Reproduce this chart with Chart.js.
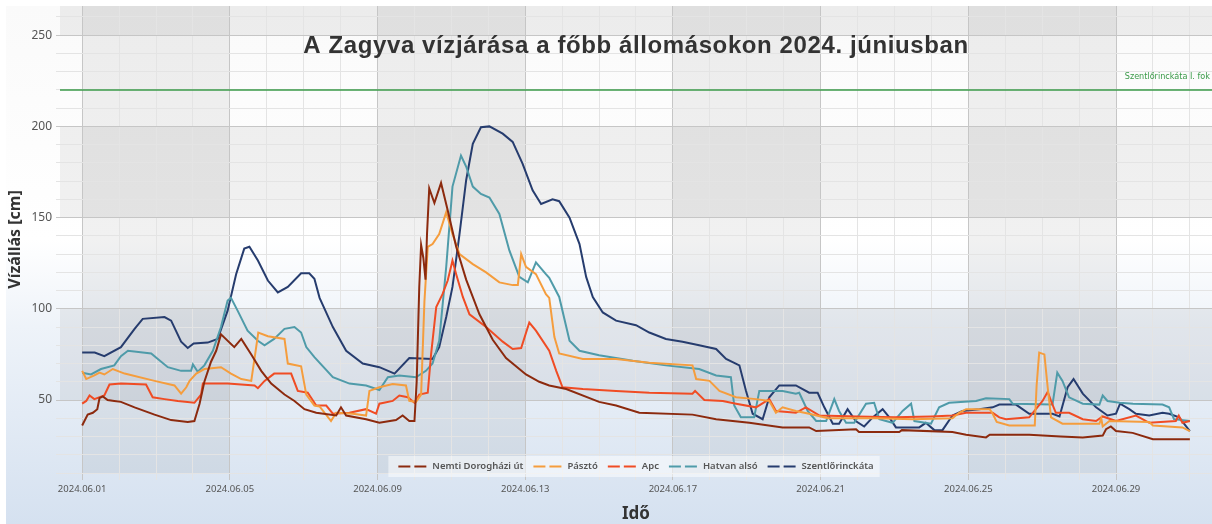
<!DOCTYPE html>
<html>
<head>
<meta charset="utf-8">
<title>Zagyva 2024 június</title>
<script src="https://cdn.jsdelivr.net/npm/chart.js@4.4.1/dist/chart.umd.min.js"></script>
<style>
  html, body { margin: 0; padding: 0; background: #fff; }
  canvas { display: block; }
</style>
</head>
<body>
<canvas id="chart" width="1212" height="524"></canvas>
<script>
// napok 2024.06.01 00:00-tól, vízállás cm-ben
const nemti = [[0,36],[0.15,42],[0.29,43],[0.41,45],[0.47,51],[0.56,52],[0.69,50],[0.87,49.5],[1.05,49],[1.42,46],[1.96,42],[2.41,39],[2.86,38],[3.04,38.5],[3.18,48],[3.31,60],[3.49,71],[3.63,77],[3.76,86],[4.12,79],[4.31,83.5],[4.58,75],[4.85,66],[5.12,59],[5.48,53],[5.75,49.5],[6.02,45],[6.34,43],[6.88,41.5],[7.01,46],[7.15,41.5],[7.69,39.5],[8.05,37.5],[8.5,39],[8.68,41.5],[8.86,38.5],[9.0,38.5],[9.06,60],[9.13,112],[9.18,135],[9.24,128],[9.3,116],[9.34,141],[9.4,166],[9.54,158],[9.72,169],[9.9,154],[10.13,134],[10.4,116],[10.76,97],[11.12,83],[11.48,73],[12.02,64],[12.38,60],[12.65,58],[13.11,56],[14.0,49],[14.46,47],[15.09,43],[16.53,42],[17.17,39.5],[18.07,37.5],[18.97,35],[19.69,35],[19.88,33],[20.96,34],[21.04,32.5],[22.13,32.5],[22.2,33.5],[23.57,32.5],[23.94,31],[24.48,29.5],[24.58,31],[25.65,31],[26.5,30],[27.1,29.5],[27.64,30.5],[27.73,34],[27.86,35.5],[28,33],[28.45,32],[29,28.5],[30,28.5]];
const paszto = [[0,66],[0.11,61.5],[0.33,63.5],[0.47,65],[0.6,64],[0.83,67],[1.15,64.5],[1.96,60.5],[2.5,58],[2.68,53.5],[2.82,57],[2.91,60.5],[3.09,64.5],[3.31,67],[3.76,68],[4.03,64.5],[4.31,61.5],[4.58,60.5],[4.67,73],[4.77,87],[5.03,85],[5.48,83.5],[5.57,70],[5.93,68.5],[6.07,53],[6.29,47],[6.43,46.5],[6.74,38.5],[6.88,43],[7.33,42.5],[7.69,41.5],[7.78,55],[8.05,57],[8.41,58.8],[8.77,58],[8.86,49.5],[9.04,49],[9.18,53],[9.27,104],[9.36,134],[9.49,135.5],[9.67,141],[9.86,153],[10.03,141],[10.22,130],[10.58,124.5],[10.94,120],[11.3,114.5],[11.66,113],[11.8,113],[11.89,130],[12.02,123],[12.29,119],[12.56,108],[12.65,106],[12.79,84.5],[12.92,75.5],[13.56,72.5],[14.46,72.5],[15.36,70.5],[16.53,69],[16.63,61.5],[16.99,60.5],[17.26,55],[17.71,51.5],[18.25,50.5],[18.61,49.5],[18.79,43],[18.97,46],[19.33,44],[19.69,42.5],[20.2,40],[21.5,40],[22.5,39.5],[23.57,40],[23.75,43],[23.94,45],[24.58,45],[24.66,42.5],[24.77,38],[25.11,36],[25.8,36],[25.85,58],[25.92,76],[26.06,75],[26.15,57],[26.24,40.5],[26.55,37],[27.55,37],[27.6,40],[27.64,35.5],[27.82,38.5],[28.9,38],[29,36],[29.8,35],[30,33]];
const apc = [[0,48],[0.11,49.5],[0.2,52.5],[0.33,50.5],[0.6,52.5],[0.74,58.5],[1.05,59],[1.73,58.5],[1.91,51.5],[2.23,50.5],[2.59,49.5],[3.04,48.5],[3.22,53],[3.27,59],[3.94,59],[4.67,58],[4.76,56.5],[4.94,60.5],[5.2,64.5],[5.66,64.5],[5.84,55],[6.11,54],[6.34,47],[6.61,47],[6.79,42.5],[7.24,43],[7.69,45],[7.96,42.5],[8.05,48],[8.41,49.5],[8.59,52.5],[8.82,51.5],[9.0,48.5],[9.13,53],[9.36,54],[9.45,75],[9.59,101],[9.76,108],[9.9,115.5],[10.03,126.5],[10.13,119],[10.31,106.5],[10.49,97],[10.94,90],[11.39,82],[11.66,78],[11.89,78.5],[12.11,92.5],[12.29,88],[12.65,77],[12.84,66],[13.01,57],[13.56,56],[14.46,55],[15.36,54],[16.53,53.5],[16.6,55],[16.85,50],[17.35,49.5],[17.71,48],[18.25,46],[18.61,50.5],[18.79,44],[19.33,43],[19.6,46],[19.97,41.5],[21,41],[22,40.5],[23,41],[23.57,41.5],[23.94,43],[24.66,43],[24.84,40.5],[25.02,39.5],[25.65,40.5],[26.01,49.5],[26.15,54.5],[26.24,49.5],[26.37,43],[26.73,43],[27.1,39.5],[27.46,38.5],[27.64,41],[28,38.5],[28.54,41.5],[28.9,37.5],[29.62,38.5],[29.7,41.5],[29.8,37.5],[30,38.5]];
const hatvan = [[0,65],[0.24,64],[0.51,67],[0.87,69],[1.05,74],[1.24,77],[1.87,75.5],[2.05,72.5],[2.32,68],[2.68,66],[2.95,66],[3.0,69.5],[3.13,65.5],[3.31,69],[3.54,77],[3.76,90],[3.94,104.5],[4.03,106],[4.21,99],[4.48,88],[4.76,82.5],[4.94,80],[5.2,83.5],[5.48,89],[5.75,90],[5.93,87],[6.07,79],[6.29,73.5],[6.79,62.5],[7.24,59],[7.69,58],[8.05,55.5],[8.28,62.5],[8.59,63.5],[9.04,62.5],[9.31,66],[9.49,70],[9.67,82.5],[9.86,123],[10.03,167],[10.26,184],[10.4,178],[10.58,167],[10.8,163],[11.03,161],[11.3,152],[11.57,132],[11.84,117.5],[12.07,114.5],[12.29,125.5],[12.56,119],[12.65,117],[12.92,106.5],[13.2,82.5],[13.47,77],[14.0,74.5],[14.91,71.5],[15.81,69],[16.71,67],[17.17,63.5],[17.57,62.5],[17.66,47],[17.84,40.5],[18.2,40.5],[18.34,55],[18.97,55],[19.33,53.5],[19.42,54],[19.65,44],[19.88,38.5],[20.15,38.5],[20.37,50.5],[20.5,44],[20.69,37.5],[20.91,37.5],[21.23,48],[21.45,48.5],[21.59,39.5],[21.95,37.5],[22.22,44],[22.45,48],[22.54,38.5],[22.99,37],[23.21,46],[23.48,48.5],[24.21,49.5],[24.48,51],[25.11,50.5],[25.2,48],[26.28,47.5],[26.41,65],[26.55,60.5],[26.73,51.5],[27.1,48],[27.55,47.5],[27.64,52.5],[27.77,49.5],[28.1,48.5],[28.46,48],[29.26,47.5],[29.44,46],[29.57,39.5],[30,38.5]];
const szent = [[0,76],[0.34,76],[0.6,74],[1.05,79],[1.42,89],[1.64,94.5],[2.23,95.5],[2.41,93.5],[2.68,82],[2.86,78.5],[3.02,81],[3.4,81.5],[3.67,83.5],[3.94,99],[4.17,119],[4.39,133],[4.53,134],[4.76,126.5],[5.03,115.5],[5.3,109],[5.57,112],[5.93,119.5],[6.15,119.5],[6.29,116.5],[6.43,106],[6.79,90],[7.15,77],[7.6,70],[8.05,68],[8.46,64.5],[8.86,73],[9.49,72.5],[9.67,79],[9.86,95.5],[10.03,112],[10.22,141],[10.4,170.5],[10.58,190.5],[10.8,199.5],[11.03,200],[11.39,196],[11.66,191.5],[11.93,179.5],[12.2,165],[12.43,157.5],[12.74,160],[12.92,159],[13.2,150],[13.47,135.5],[13.65,117.5],[13.83,106.5],[14.1,98],[14.46,93.5],[15,91],[15.36,87],[15.81,83.5],[16.26,82],[16.71,80],[17.17,78],[17.44,72.5],[17.8,69],[17.98,55],[18.16,42.5],[18.43,39.5],[18.61,51.5],[18.88,58],[19.33,58],[19.69,54],[19.92,54],[20.1,46],[20.33,37],[20.5,37],[20.73,45],[20.95,38.5],[21.18,35.5],[21.41,40.5],[21.68,45],[21.86,40.5],[22.04,35],[22.67,35],[22.85,37.5],[23.08,33.5],[23.3,33.5],[23.57,41.5],[23.84,44],[24.3,45],[24.66,46],[24.84,47.5],[25.29,47.5],[25.65,42.5],[26.28,42.5],[26.47,41],[26.69,57],[26.85,61.5],[27.1,53.5],[27.46,46],[27.77,41.5],[28,42.5],[28.11,48],[28.36,45],[28.54,42.5],[28.9,41.5],[29.26,43],[29.44,42.5],[29.71,40.5],[30,33]];

const seriesNames = ['Nemti Dorogházi út', 'Pásztó', 'Apc', 'Hatvan alsó', 'Szentlőrinckáta'];
const seriesColors = ['#8c2a0e', '#f59d3d', '#f04c24', '#4f9ba9', '#263c6e'];
const xTickLabels = ['2024.06.01', '2024.06.05', '2024.06.09', '2024.06.13', '2024.06.17', '2024.06.21', '2024.06.25', '2024.06.29'];
const yTickLabels = [50, 100, 150, 200, 250];
const thresholdValue = 220;
const thresholdLabel = 'Szentlőrinckáta I. fok';
const chartTitle = 'A Zagyva vízjárása a főbb állomásokon 2024. júniusban';

const FONT = '"Noto Sans", "Open Sans", sans-serif';

const toXY = arr => arr.map(p => ({ x: p[0], y: p[1] }));

// háttér: színátmenet + sakktábla sávok
const bgPlugin = {
  id: 'bgPlugin',
  beforeDraw(chart) {
    const { ctx, chartArea: a, scales: { x, y } } = chart;
    ctx.save();
    ctx.fillStyle = '#fff';
    ctx.fillRect(0, 0, chart.width, chart.height);
    const g = ctx.createLinearGradient(0, 6, 0, chart.height);
    g.addColorStop(0, '#fafafa');
    g.addColorStop(0.45, '#ffffff');
    g.addColorStop(0.62, '#eef3f9');
    g.addColorStop(1, '#d5e1f0');
    ctx.fillStyle = g;
    ctx.fillRect(6, 6, chart.width - 6, chart.height - 6);

    ctx.fillStyle = 'rgba(0,0,0,0.055)';
    const xs = [a.left];
    for (let d = 0; d <= 28; d += 4) xs.push(x.getPixelForValue(d));
    xs.push(a.right);
    for (let i = 1; i < xs.length - 1; i += 2) ctx.fillRect(xs[i], a.top, xs[i + 1] - xs[i], a.height);
    const ys = [a.top].concat(yTickLabels.slice().reverse().map(v => y.getPixelForValue(v)), [a.bottom]);
    for (let j = 0; j < ys.length - 1; j += 2) ctx.fillRect(a.left, ys[j], a.width, ys[j + 1] - ys[j]);
    ctx.restore();
  }
};

const thresholdPlugin = {
  id: 'thresholdPlugin',
  beforeDatasetsDraw(chart) {
    const { ctx, chartArea: a, scales: { y } } = chart;
    const py = y.getPixelForValue(thresholdValue);
    ctx.save();
    ctx.strokeStyle = '#3a9a48';
    ctx.lineWidth = 1.5;
    ctx.beginPath();
    ctx.moveTo(a.left, py);
    ctx.lineTo(a.right, py);
    ctx.stroke();
    ctx.fillStyle = '#3a9a48';
    ctx.font = '9px "DejaVu Sans Condensed", "Liberation Sans Narrow", ' + FONT;
    ctx.textAlign = 'right';
    ctx.textBaseline = 'middle';
    ctx.fillText(thresholdLabel, a.right - 2, py - 13);
    ctx.restore();
  }
};

const titlePlugin = {
  id: 'titlePlugin',
  afterDraw(chart) {
    const { ctx, chartArea: a } = chart;
    ctx.save();
    ctx.font = 'bold 24px "Liberation Sans", Arial, sans-serif';
    ctx.letterSpacing = '0.6px';
    ctx.fillStyle = '#333';
    ctx.textAlign = 'center';
    ctx.textBaseline = 'alphabetic';
    ctx.fillText(chartTitle, (a.left + a.right) / 2, 53);
    ctx.restore();
  }
};

const legendPlugin = {
  id: 'legendPlugin',
  afterDraw(chart) {
    const { ctx, chartArea: a } = chart;
    ctx.save();
    ctx.font = '600 9.5px ' + FONT;
    const items = chart.data.datasets.map(ds => ({ label: ds.label, color: ds.borderColor, w: ctx.measureText(ds.label).width }));
    const sample = 28, gap1 = 6, gap2 = 10;
    let total = 0;
    items.forEach((it, i) => { total += sample + gap1 + it.w + (i ? gap2 : 0); });
    const cx = (a.left + a.right) / 2, cy = 466.5;
    let x0 = cx - total / 2;
    ctx.fillStyle = 'rgba(255,255,255,0.5)';
    ctx.fillRect(x0 - 10, cy - 10.5, total + 16, 21);
    ctx.textBaseline = 'middle';
    items.forEach(it => {
      ctx.strokeStyle = it.color;
      ctx.lineWidth = 2;
      ctx.beginPath();
      ctx.moveTo(x0, cy); ctx.lineTo(x0 + 12, cy);
      ctx.moveTo(x0 + 16, cy); ctx.lineTo(x0 + 28, cy);
      ctx.stroke();
      ctx.fillStyle = '#555';
      ctx.fillText(it.label, x0 + sample + gap1, cy);
      x0 += sample + gap1 + it.w + gap2;
    });
    ctx.restore();
  }
};

const allSeries = [nemti, paszto, apc, hatvan, szent];

new Chart(document.getElementById('chart'), {
  type: 'line',
  data: {
    datasets: allSeries.map((s, i) => ({
      label: seriesNames[i],
      data: toXY(s),
      borderColor: seriesColors[i],
      backgroundColor: seriesColors[i],
      borderWidth: 2,
      pointRadius: 0,
      tension: 0,
      fill: false
    }))
  },
  options: {
    responsive: false,
    animation: false,
    devicePixelRatio: 1,
    layout: { padding: { left: 6, top: 6, right: 0, bottom: 0 } },
    plugins: {
      legend: { display: false },
      title: { display: false },
      tooltip: { enabled: false }
    },
    scales: {
      x: {
        type: 'linear',
        min: -0.6,
        max: 30.6,
        afterBuildTicks: s => {
          const t = [];
          for (let d = 0; d <= 30; d++) t.push({ value: d });
          s.ticks = t;
        },
        afterFit: s => { s.height = 51; s.paddingLeft = 0; s.paddingRight = 0; },
        border: { display: false },
        grid: {
          color: c => (c.tick && c.tick.value % 4 === 0) ? '#c6c6c6' : '#e4e4e4',
          tickLength: 7
        },
        ticks: {
          autoSkip: false,
          maxRotation: 0,
          padding: 4,
          color: '#555',
          font: { family: FONT, size: 9.5 },
          callback: v => (v % 4 === 0 ? xTickLabels[v / 4] : '')
        },
        title: {
          display: true,
          text: 'Idő',
          color: '#333',
          font: { family: FONT, size: 17, weight: 'bold' },
          padding: { top: 0, bottom: 0 }
        }
      },
      y: {
        min: 10,
        max: 266,
        afterBuildTicks: s => {
          const t = [];
          for (let v = 10; v <= 260; v += 10) t.push({ value: v });
          s.ticks = t;
        },
        afterFit: s => { s.width = 54; s.paddingTop = 0; s.paddingBottom = 0; },
        border: { display: false },
        grid: {
          color: c => (c.tick && yTickLabels.includes(c.tick.value)) ? '#c6c6c6' : '#e4e4e4',
          tickLength: 4
        },
        ticks: {
          autoSkip: false,
          padding: 4,
          color: '#555',
          font: { family: FONT, size: 12 },
          callback: v => (yTickLabels.includes(v) ? String(v) : '')
        },
        title: {
          display: true,
          text: 'Vízállás [cm]',
          color: '#333',
          font: { family: FONT, size: 16, weight: 'bold' },
          padding: { top: 0, bottom: 0 }
        }
      }
    }
  },
  plugins: [bgPlugin, thresholdPlugin, titlePlugin, legendPlugin]
});
</script>
</body>
</html>
